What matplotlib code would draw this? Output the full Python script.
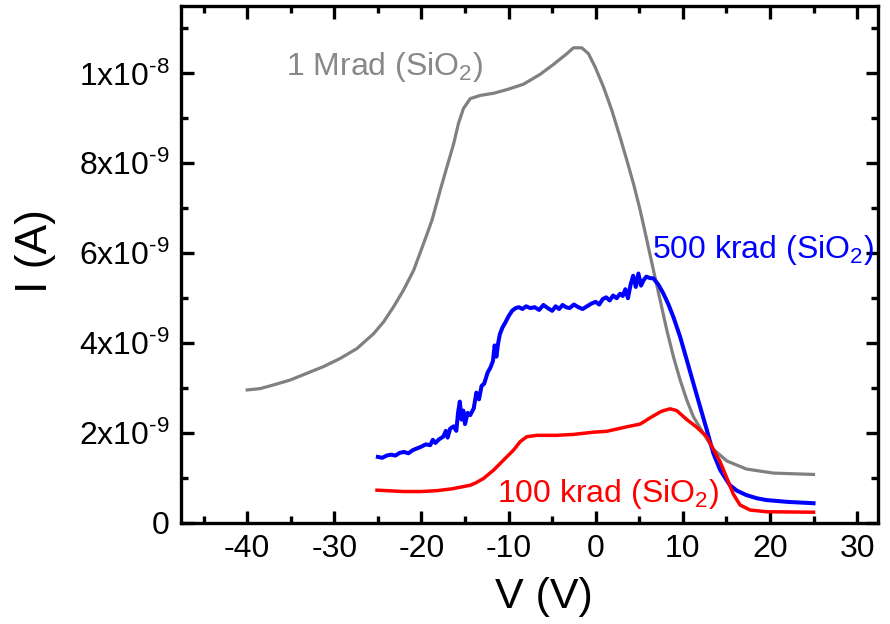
import matplotlib
matplotlib.use("Agg")
import matplotlib.pyplot as plt
from matplotlib.ticker import MultipleLocator
import numpy as np

plt.rcParams['font.family'] = ['Liberation Sans', 'DejaVu Sans']
plt.rcParams['mathtext.fontset'] = 'custom'
plt.rcParams['mathtext.rm'] = 'Liberation Sans'
plt.rcParams['mathtext.it'] = 'Liberation Sans:italic'
plt.rcParams['mathtext.bf'] = 'Liberation Sans:bold'

# ---- data (I in units of 1e-9 A) ----
v_1mrad = [-40.0, -38.5, -37.0, -35.07, -33.15, -31.24, -29.33, -27.41, -25.5, -24.36, -23.2,
           -22.06, -20.9, -19.77, -18.8, -17.85, -17.08, -16.3, -15.75, -15.18, -14.4, -13.26,
           -11.7, -10.2, -8.29, -6.38, -4.85, -3.31, -2.55, -1.6, -0.83, -0.06, 0.89, 1.85,
           2.8, 3.57, 4.33, 5.1, 5.87, 6.63, 7.39, 8.16, 8.92, 9.69, 10.46, 11.22, 12.37,
           13.5, 15.05, 17.3, 20.4, 25.0]
i_1mrad = [2.96, 2.99, 3.07, 3.18, 3.33, 3.48, 3.66, 3.88, 4.21, 4.47, 4.81,
           5.18, 5.62, 6.21, 6.73, 7.40, 7.92, 8.44, 8.89, 9.22, 9.44, 9.51,
           9.56, 9.64, 9.76, 9.98, 10.20, 10.44, 10.57, 10.57, 10.44, 10.14, 9.70, 9.18,
           8.58, 8.07, 7.55, 6.96, 6.29, 5.62, 4.96, 4.29, 3.70, 3.18, 2.73, 2.36, 1.99,
           1.64, 1.38, 1.20, 1.11, 1.08]

v_500krad = [-25.0, -24.5, -24.0, -23.5, -23.0, -22.5, -22.0, -21.5, -21.0, -20.5, -20.0,
             -19.5, -19.0, -18.7, -18.4, -18.0, -17.5, -17.2, -17.0, -16.7, -16.3, -16.0,
             -15.8, -15.6, -15.4, -15.2, -15.0, -14.7, -14.4, -14.0, -13.7, -13.4, -13.1,
             -12.8, -12.4, -12.1, -11.8, -11.6, -11.4, -11.2, -11.0, -10.7, -10.4, -10.0,
             -9.6, -9.2, -8.8, -8.4, -8.0, -7.5, -7.0, -6.5, -6.0, -5.5, -5.0, -4.6, -4.2,
             -3.8, -3.4, -3.0, -2.5, -2.0, -1.5, -1.0, -0.5, 0.0, 0.4, 0.8, 1.2, 1.6, 2.0,
             2.4, 2.8, 3.1, 3.4, 3.7, 4.0, 4.3, 4.6, 4.9, 5.2, 5.5, 5.8, 6.2, 6.63, 7.2,
             7.78, 8.35, 8.92, 9.69, 10.46, 11.22, 11.99, 12.75, 13.5, 14.28, 15.4, 16.2,
             17.3, 18.5, 19.6, 22.0, 25.0]
i_500krad = [1.47, 1.45, 1.50, 1.52, 1.50, 1.56, 1.58, 1.55, 1.62, 1.66, 1.70,
             1.75, 1.73, 1.85, 1.78, 1.86, 1.92, 2.05, 1.90, 2.10, 2.15, 2.05,
             2.45, 2.70, 2.30, 2.50, 2.20, 2.45, 2.40, 2.55, 2.90, 2.75, 3.05,
             3.10, 3.35, 3.45, 3.60, 3.95, 3.70, 4.00, 4.20, 4.35, 4.45, 4.60,
             4.72, 4.78, 4.80, 4.76, 4.82, 4.78, 4.80, 4.74, 4.85, 4.78, 4.72, 4.82, 4.76,
             4.85, 4.80, 4.78, 4.86, 4.80, 4.76, 4.82, 4.88, 4.92, 4.86, 4.98, 5.02, 4.95, 5.06,
             5.00, 5.10, 5.05, 5.20, 5.00, 5.30, 5.50, 5.25, 5.55, 5.28, 5.40, 5.48, 5.45, 5.44, 5.30,
             5.10, 4.86, 4.58, 4.14, 3.62, 3.10, 2.58, 2.07, 1.55, 1.18, 0.84, 0.72,
             0.62, 0.55, 0.51, 0.47, 0.44]

v_100krad = [-25.1, -22.06, -20.0, -18.2, -16.5, -14.4, -13.8, -12.88, -11.7, -10.58, -9.44,
             -8.67, -7.9, -6.75, -4.5, -2.55, -0.26, 1.28, 3.57, 5.1, 6.25, 7.4, 7.78,
             8.54, 9.3, 10.46, 11.6, 12.75, 13.5, 14.28, 15.05, 15.8, 16.57, 17.7, 19.6, 25.0]
i_100krad = [0.73, 0.70, 0.70, 0.72, 0.76, 0.84, 0.89, 0.99, 1.18, 1.40, 1.62,
             1.81, 1.92, 1.95, 1.95, 1.97, 2.02, 2.04, 2.14, 2.20, 2.34, 2.47, 2.50,
             2.54, 2.50, 2.30, 2.13, 1.92, 1.64, 1.36, 1.00, 0.64, 0.40, 0.29, 0.25, 0.24]

HY = '\u2010'
y_ticks = [0, 2e-9, 4e-9, 6e-9, 8e-9, 1e-8]
y_tick_labels = ['0', '2x10$^{' + HY + '9}$', '4x10$^{' + HY + '9}$', '6x10$^{' + HY + '9}$',
                 '8x10$^{' + HY + '9}$', '1x10$^{' + HY + '8}$']
x_ticks = [-40, -30, -20, -10, 0, 10, 20, 30]

labels = [r'1 Mrad (SiO$_{2}$)', r'500 krad (SiO$_{2}$)', r'100 krad (SiO$_{2}$)']

# ---- figure ----
fig = plt.figure(figsize=(8.9, 6.24), dpi=100)
ax = fig.add_axes([181/890, 1-523/624, (878-181)/890, (523-6)/624])

scale = 1e-9
ax.plot(v_1mrad, np.array(i_1mrad)*scale, color='#808080', lw=2.3, solid_joinstyle='round')
ax.plot(v_500krad, np.array(i_500krad)*scale, color='#0000ff', lw=2.9, solid_joinstyle='round')
ax.plot(v_100krad, np.array(i_100krad)*scale, color='#ff0000', lw=2.5, solid_joinstyle='round')

ax.set_xlim(-47.6, 32.4)
ax.set_ylim(0, 11.5e-9)
ax.set_xticks(x_ticks)
ax.set_xticklabels([str(t) for t in x_ticks])
ax.set_yticks(y_ticks)
ax.set_yticklabels(y_tick_labels)
ax.xaxis.set_minor_locator(MultipleLocator(5))
ax.yaxis.set_minor_locator(MultipleLocator(1e-9))

for s in ax.spines.values():
    s.set_linewidth(2.4)
ax.tick_params(which='both', direction='in', top=True, right=True, width=2.4)
ax.tick_params(which='major', length=9, labelsize=23, pad=8)
ax.tick_params(which='minor', length=5)

ax.set_xlabel('V (V)', fontsize=31, labelpad=0)
ax.xaxis.set_label_coords(0.52, -0.105, transform=ax.transAxes)
fig.text(36/890, 1-251/624, 'I (A)', fontsize=32, rotation=90, ha='center', va='center')

ax.text(-35.6, 9.96e-9, labels[0], color='#888888', fontsize=23, ha='left', va='baseline')
ax.text(6.5, 5.89e-9, labels[1], color='#0000ff', fontsize=23, ha='left', va='baseline')
ax.text(-11.3, 0.47e-9, labels[2], color='#ff0000', fontsize=23, ha='left', va='baseline')

fig.savefig('out.png', dpi=100)
